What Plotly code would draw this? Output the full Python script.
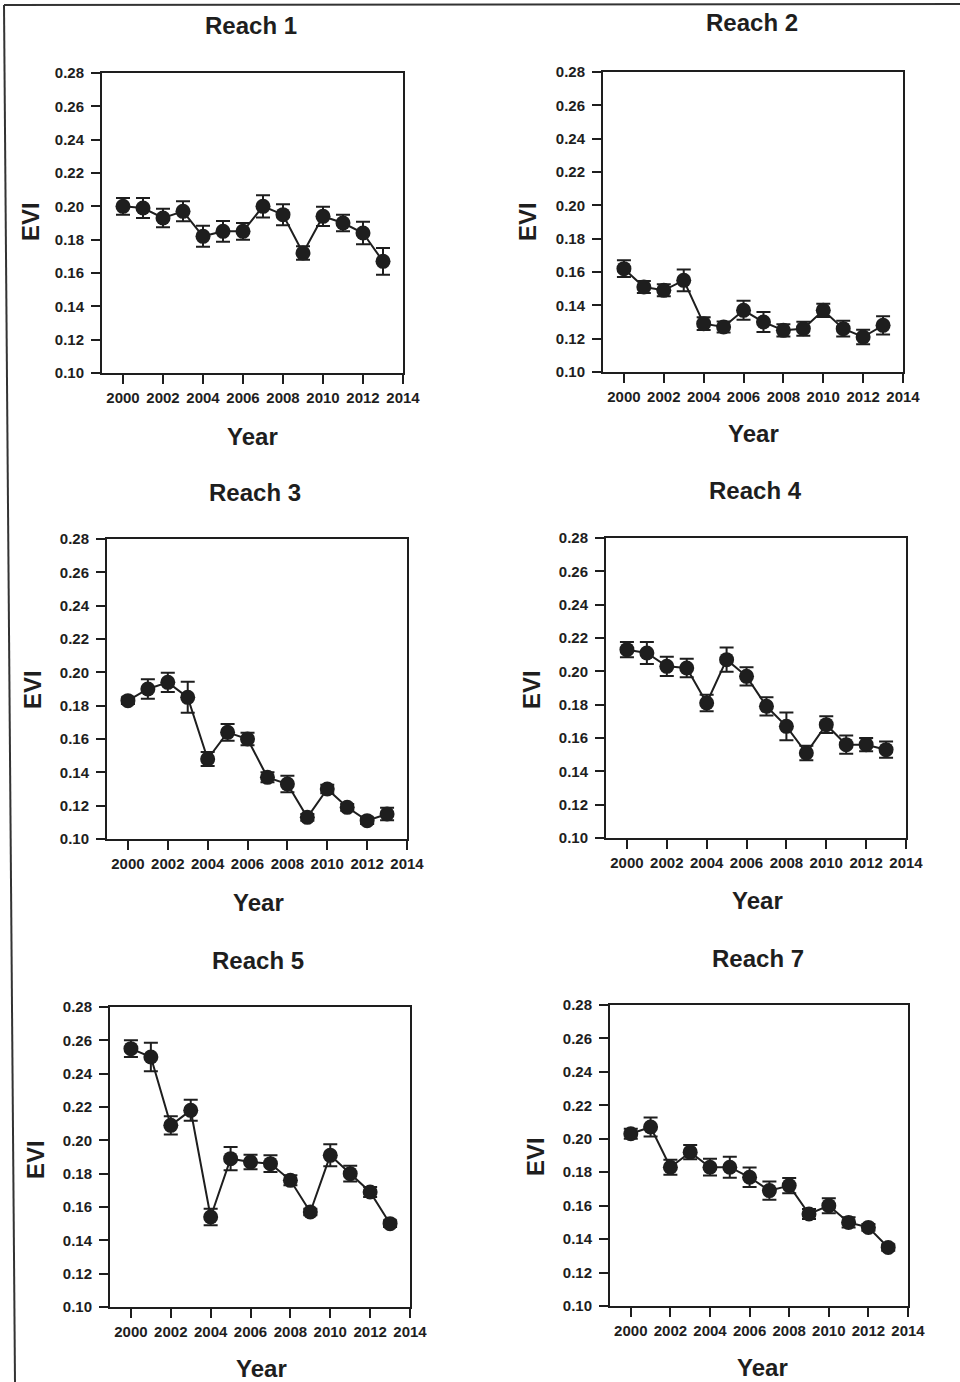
import plotly.graph_objects as go

years = list(range(2000, 2014))

titles = ["Reach 1", "Reach 2", "Reach 3", "Reach 4", "Reach 5", "Reach 7"]

evi_r1 = [0.200, 0.199, 0.193, 0.197, 0.182, 0.185, 0.185, 0.200, 0.195, 0.172, 0.194, 0.190, 0.184, 0.167]
err_r1 = [0.005, 0.006, 0.0055, 0.006, 0.0063, 0.0062, 0.005, 0.0067, 0.0063, 0.004, 0.0058, 0.005, 0.0068, 0.008]

evi_r2 = [0.162, 0.151, 0.149, 0.155, 0.129, 0.127, 0.137, 0.130, 0.125, 0.126, 0.137, 0.126, 0.121, 0.128]
err_r2 = [0.005, 0.0036, 0.0036, 0.0065, 0.0038, 0.0033, 0.0057, 0.006, 0.0037, 0.0042, 0.004, 0.0047, 0.0043, 0.0055]

evi_r3 = [0.183, 0.190, 0.194, 0.185, 0.148, 0.164, 0.160, 0.137, 0.133, 0.113, 0.130, 0.119, 0.111, 0.115]
err_r3 = [0.002, 0.0059, 0.0058, 0.0093, 0.0042, 0.005, 0.0037, 0.003, 0.005, 0.002, 0.0025, 0.002, 0.002, 0.0037]

evi_r4 = [0.213, 0.211, 0.203, 0.202, 0.181, 0.207, 0.197, 0.179, 0.167, 0.151, 0.168, 0.156, 0.156, 0.153]
err_r4 = [0.0046, 0.0066, 0.0058, 0.0056, 0.005, 0.0073, 0.0055, 0.0055, 0.0083, 0.0043, 0.005, 0.0055, 0.004, 0.0049]

evi_r5 = [0.255, 0.250, 0.209, 0.218, 0.154, 0.189, 0.187, 0.186, 0.176, 0.157, 0.191, 0.180, 0.169, 0.150]
err_r5 = [0.005, 0.0085, 0.0055, 0.0063, 0.005, 0.007, 0.0044, 0.005, 0.003, 0.002, 0.0066, 0.0047, 0.003, 0.002]

evi_r7 = [0.203, 0.207, 0.183, 0.192, 0.183, 0.183, 0.177, 0.169, 0.172, 0.155, 0.160, 0.150, 0.147, 0.135]
err_r7 = [0.003, 0.0057, 0.0045, 0.0043, 0.005, 0.0063, 0.0058, 0.0055, 0.0045, 0.003, 0.0045, 0.003, 0.002, 0.002]

series = [(evi_r1, err_r1), (evi_r2, err_r2), (evi_r3, err_r3),
          (evi_r4, err_r4), (evi_r5, err_r5), (evi_r7, err_r7)]

y_ticks = [0.10, 0.12, 0.14, 0.16, 0.18, 0.20, 0.22, 0.24, 0.26, 0.28]
x_ticks = [2000, 2002, 2004, 2006, 2008, 2010, 2012, 2014]

W, H = 960, 1382


def px(xp):
    return xp / W


def py(yp):
    return 1 - yp / H


boxes = [(102, 403, 73, 373), (603, 903, 72, 372),
         (107, 407, 539, 839), (606, 906, 538, 838),
         (110, 410, 1007, 1307), (610, 908, 1005, 1306)]
title_pos = [(251, 25), (752, 23), (255, 492), (755, 490), (258, 960), (758, 958)]
year_pos = [(252, 436), (753, 433), (258, 902), (757, 900), (261, 1368), (762, 1367)]
evi_pos = [(30, 222), (527, 222), (32, 690), (531, 690), (35, 1160), (535, 1157)]

INK = "#1e1e1e"
FONT = "Liberation Sans, Arial, sans-serif"

fig = go.Figure()
annotations = []
for i, ((vals, errs), (l, r, t, b)) in enumerate(zip(series, boxes)):
    n = i + 1
    xa = "x" if n == 1 else f"x{n}"
    ya = "y" if n == 1 else f"y{n}"
    fig.add_trace(go.Scatter(
        x=years, y=vals, xaxis=xa, yaxis=ya, mode="lines+markers",
        line=dict(color=INK, width=2),
        marker=dict(size=15, color=INK),
        error_y=dict(type="data", array=errs, visible=True,
                     thickness=2, width=7, color=INK),
        showlegend=False, hoverinfo="skip"))
    axis_common = dict(showline=True, linewidth=2, linecolor=INK, mirror=True,
                       ticks="outside", ticklen=9, tickwidth=2, tickcolor=INK,
                       showgrid=False, zeroline=False, automargin=False,
                       tickfont=dict(family=FONT, size=15, color=INK))
    xkey = "xaxis" if n == 1 else f"xaxis{n}"
    ykey = "yaxis" if n == 1 else f"yaxis{n}"
    fig.layout[xkey] = dict(axis_common, domain=[px(l), px(r)], anchor=ya,
                            range=[1998.95, 2014], tickvals=x_ticks,
                            ticktext=[f"<b>{v}</b>" for v in x_ticks],
                            ticklabelstandoff=1)
    fig.layout[ykey] = dict(axis_common, domain=[py(b), py(t)], anchor=xa,
                            range=[0.10, 0.28], tickvals=y_ticks,
                            ticktext=[f"<b>{v:.2f}</b>" for v in y_ticks],
                            ticklabelstandoff=4)
    tx, ty = title_pos[i]
    annotations.append(dict(text=f"<b>{titles[i]}</b>", x=px(tx), y=py(ty),
                            xref="paper", yref="paper", showarrow=False,
                            xanchor="center", yanchor="middle",
                            font=dict(family=FONT, size=24, color=INK)))
    yx, yy = year_pos[i]
    annotations.append(dict(text="<b>Year</b>", x=px(yx), y=py(yy),
                            xref="paper", yref="paper", showarrow=False,
                            xanchor="center", yanchor="middle",
                            font=dict(family=FONT, size=24, color=INK)))
    ex, ey = evi_pos[i]
    annotations.append(dict(text="<b>EVI</b>", x=px(ex), y=py(ey),
                            xref="paper", yref="paper", showarrow=False,
                            textangle=-90, xanchor="center", yanchor="middle",
                            font=dict(family=FONT, size=24, color=INK)))

shapes = [
    dict(type="line", xref="paper", yref="paper", x0=px(4), y0=py(5),
         x1=1, y1=py(4), line=dict(color="#333", width=2)),
    dict(type="line", xref="paper", yref="paper", x0=px(4), y0=py(5),
         x1=px(15), y1=0, line=dict(color="#333", width=2)),
]

fig.update_layout(template="none", width=W, height=H,
                  margin=dict(l=0, r=0, t=0, b=0, pad=0, autoexpand=False),
                  paper_bgcolor="white", plot_bgcolor="white",
                  annotations=annotations, shapes=shapes,
                  font=dict(family=FONT, color=INK))

fig.write_html("out.html", config={"displayModeBar": False},
               post_script="document.body.style.margin='0';"
                           "document.body.style.overflow='hidden';")
